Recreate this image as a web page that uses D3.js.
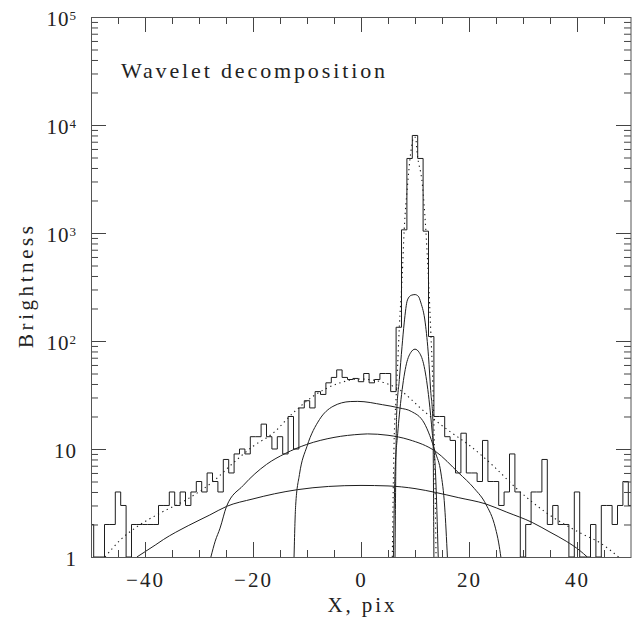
<!DOCTYPE html>
<html><head><meta charset="utf-8">
<script src="https://cdn.jsdelivr.net/npm/d3@7"></script>
<style>
html,body{margin:0;padding:0;background:#fff;}
svg{display:block;}
text{font-family:"Liberation Serif","DejaVu Serif",serif;fill:#222;}
</style></head>
<body><svg id="c" width="632" height="618"></svg>
<script>
// ---- data ----
const binCenters = d3.range(-50, 51);           // 1-pixel bins, centers -50..50
const counts = [
 2,0,0,2,2,4,3,0,2,2,            // -50..-41
 2,2,2,3,3,4,3,4,3,4,            // -40..-31
 5,4,6,5,4,8,6,9,10,9,           // -30..-21
 13,13,17,13,10,13,9,20,10,24,   // -20..-11
 28,24,34,32,41,46,54,46,44,45,  // -10..-1
 42,50,41,44,50,50,34,134,1070,4900, // 0..9
 8000,4900,1040,110,20,20,13,12,6,14, // 10..19
 6,6,5,12,5,5,3,4,9,4,           // 20..29
 0,2,4,4,8,2,3,2,2,0,            // 30..39
 4,0,0,2,0,3,3,2,3,5,            // 40..49
 3                               // 50
];
// wavelet components (x, brightness)
const compScale6 = [[-41.5,1],[-38,1.3],[-36.6,1.45],[-32,1.95],[-28,2.45],[-24.9,2.94],[-20,3.45],[-16,3.85],[-11.8,4.2],[-6,4.5],[0,4.6],[5,4.55],[10,4.3],[13.8,3.96],[18,3.55],[23.1,3.1],[27,2.6],[31.7,2.09],[35,1.7],[38,1.4],[40.5,1.15],[41.9,1]];
const compScale5 = [[-27.8,1],[-27,1.4],[-26.1,1.85],[-24.9,2.94],[-21.8,4.6],[-17.5,7.2],[-14,9.1],[-10.1,11],[-5,12.8],[0,13.7],[1.2,13.8],[5,13.4],[8.9,12.2],[13.8,9.5],[18.1,6.0],[21,4.3],[23.1,3.1],[24.9,1.85],[25.5,1.35],[25.9,1]];
const compScale4 = [[-12.4,1],[-12.1,3.0],[-11.4,5.8],[-10.0,10.6],[-7.7,18.7],[-5.2,24.8],[-2,27.5],[-0.6,27.6],[4.0,25.7],[7.1,24],[9.3,22.3],[11.7,17.4],[13.8,9.2],[14.8,6.0],[15.5,2.9],[16.0,1]];
const compScale3 = [[6.0,1],[6.3,6],[6.8,14],[7.4,28.6],[8.3,58],[9.2,78],[10,84],[10.8,78],[11.7,58],[12.6,28.6],[13.2,14],[13.8,6],[14.3,1]];
const compScale2 = [[6.3,1],[6.6,21],[7.1,44],[7.6,89],[8.0,147],[8.6,240],[9.3,265],[10,269],[10.6,260],[11.1,225],[11.9,147],[12.5,72],[12.9,35],[13.3,18.7],[13.5,1]];
const modelWide = [[-47.4,1],[-44.5,1.45],[-41.4,1.92],[-37.2,2.55],[-32.3,3.4],[-27.4,5.0],[-23.7,7.4],[-20,10.6],[-16.3,14],[-12.6,21.5],[-8.9,30.7],[-4,40.8],[-0.3,44.5],[3.4,42.3],[7.1,35.4],[11.7,22.3],[16,15.1],[20.3,10.6],[24.6,6.9],[28.7,4.35],[34.4,2.55],[40.6,1.67],[44.3,1.35],[47.7,1]];
const modelPeak = [[5.8,1],[6.1,10],[6.5,30],[6.8,62],[7.1,136],[7.6,370],[8.0,1072],[8.6,2700],[9.2,5500],[9.8,7700],[10.1,7700],[10.4,5500],[11.4,2700],[12.0,1072],[12.5,370],[12.9,130],[13.3,40],[13.6,10],[13.9,1]];
const xMajorTicks = [-40,-20,0,20,40];
const xMinorTicks = [-45,-35,-30,-25,-15,-10,-5,5,10,15,25,30,35,45];
const yDecades = [1,10,100,1000,10000,100000];
const titleText = "Wavelet decomposition";
const xLabel = "X, pix";
const yLabel = "Brightness";

// ---- drawing ----
const svg = d3.select("#c");
const L=91, R=631, T=17, B=557;
const x = d3.scaleLinear().domain([-50,50]).range([L,R]);
const y = d3.scaleLog().domain([1,1e5]).range([B,T]);
const yy = v => y(Math.max(v,1));

const yMinor = [];
yDecades.slice(0,-1).forEach(d => { for (let m=2;m<=9;m++) yMinor.push(m*d); });

const ink = "#1e1e1e";
svg.append("clipPath").attr("id","pc").append("rect")
  .attr("x",L).attr("y",T).attr("width",R-L).attr("height",B-T);
const g = svg.append("g").attr("clip-path","url(#pc)");

// histogram
const hist = d3.line().x(d=>x(d[0])).y(d=>yy(d[1])).curve(d3.curveStep);
g.append("path").datum(binCenters.map((c,i)=>[c,counts[i]]))
  .attr("d",hist).attr("fill","none").attr("stroke",ink).attr("stroke-width",1);

const smooth = d3.line().x(d=>x(d[0])).y(d=>yy(d[1])).curve(d3.curveMonotoneX);
[compScale6, compScale5, compScale4, compScale3, compScale2].forEach(c=>{
  g.append("path").datum(c).attr("d",smooth).attr("fill","none")
   .attr("stroke",ink).attr("stroke-width",1);
});
[modelWide, modelPeak].forEach(c=>{
  g.append("path").datum(c).attr("d",smooth).attr("fill","none")
   .attr("stroke",ink).attr("stroke-width",1.1).attr("stroke-dasharray","1.3,3.6");
});

// axes (ticks point inward)
function styleAxis(sel){ sel.select(".domain").remove(); sel.selectAll("line").attr("stroke","#444"); }
const fmtX = d3.format("d");
svg.append("g").attr("transform",`translate(0,${B})`)
  .call(d3.axisBottom(x).tickValues(xMajorTicks).tickSize(-15).tickPadding(15).tickFormat(fmtX))
  .call(styleAxis)
  .selectAll("text").attr("font-size",21).attr("font-family","Liberation Serif")
  .attr("letter-spacing",2).attr("fill","#222");
svg.append("g").attr("transform",`translate(0,${B})`)
  .call(d3.axisBottom(x).tickValues(xMinorTicks).tickSize(-7).tickFormat("")).call(styleAxis);
svg.append("g").attr("transform",`translate(0,${T})`)
  .call(d3.axisTop(x).tickValues(xMajorTicks).tickSize(-15).tickFormat("")).call(styleAxis);
svg.append("g").attr("transform",`translate(0,${T})`)
  .call(d3.axisTop(x).tickValues(xMinorTicks).tickSize(-7).tickFormat("")).call(styleAxis);

const leftMaj = svg.append("g").attr("transform",`translate(${L},0)`)
  .call(d3.axisLeft(y).tickValues(yDecades).tickSize(-15).tickPadding(14).tickFormat(()=>""))
  .call(styleAxis);
leftMaj.selectAll("text").each(function(d){
  const t = d3.select(this).attr("dy",null).attr("y",8).attr("font-size",21)
    .attr("letter-spacing",1).attr("fill","#222");
  const e = Math.round(Math.log10(d));
  if (e===0) t.text("1");
  else if (e===1) t.text("10");
  else { t.append("tspan").text("10"); t.append("tspan").attr("font-size",13).attr("dy",-6).text(String(e)); }
});
svg.append("g").attr("transform",`translate(${L},0)`)
  .call(d3.axisLeft(y).tickValues(yMinor).tickSize(-7).tickFormat("")).call(styleAxis);
svg.append("g").attr("transform",`translate(${R},0)`)
  .call(d3.axisRight(y).tickValues(yDecades).tickSize(-15).tickFormat("")).call(styleAxis);
svg.append("g").attr("transform",`translate(${R},0)`)
  .call(d3.axisRight(y).tickValues(yMinor).tickSize(-7).tickFormat("")).call(styleAxis);

// frame
svg.append("rect").attr("x",L+0.5).attr("y",T+0.5).attr("width",R-L-0.5).attr("height",B-T)
  .attr("fill","none").attr("stroke","#555").attr("stroke-width",1);

// texts
svg.append("text").attr("x",121).attr("y",78).attr("font-size",22)
  .attr("textLength",264).attr("lengthAdjust","spacing").text(titleText);
svg.append("text").attr("x",(L+R)/2).attr("y",612).attr("text-anchor","middle")
  .attr("font-size",21).attr("textLength",67).attr("lengthAdjust","spacing").text(xLabel);
svg.append("text").attr("transform",`translate(33,${(T+B)/2}) rotate(-90)`)
  .attr("text-anchor","middle").attr("font-size",21)
  .attr("textLength",122).attr("lengthAdjust","spacing").text(yLabel);
</script></body></html>
